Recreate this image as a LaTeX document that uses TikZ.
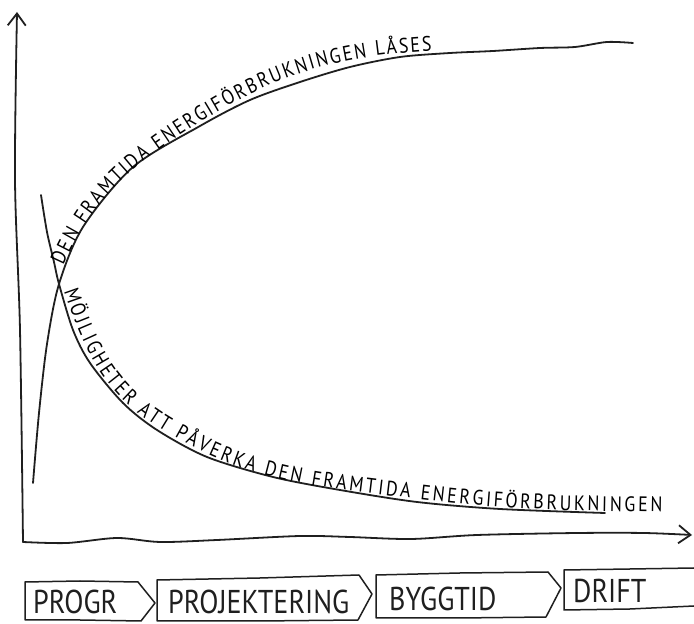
\documentclass[tikz,border=0pt]{standalone}
\usepackage{fontspec}
\newfontfamily\hand[FakeStretch=0.85]{PT Sans}
\usetikzlibrary{arrows.meta,decorations.text}
\newcommand{\curvefont}{\hand\fontsize{21}{21}\selectfont}
\tikzset{
  ink/.style={draw=black!88, line width=1.8pt, line cap=round, line join=round},
  boxline/.style={ink, line width=1.5pt},
  axisline/.style={ink, -{Straight Barb[length=12pt,width=18pt,line width=1.8pt]}},
  curvelabel/.style={decorate, decoration={text along path, text align={fit to path}, raise=3pt}},
  boxlabel/.style={anchor=base west, inner sep=0pt, text=black!88, font=\hand\fontsize{33}{33}\selectfont},
}
\begin{document}
\begin{tikzpicture}[x=1pt,y=1pt]
\useasboundingbox (0,0) rectangle (694,624);
% axes
\coordinate (O) at (23,82);
\coordinate (ytip) at (17,612);
\coordinate (xtip) at (692,89);
\draw[axisline] plot[smooth] coordinates {(O) (20,294) (15,444) (ytip)};
\draw[axisline] plot[smooth] coordinates {(O) (67,81) (117,86) (160,82) (217,84) (300,88) (350,87) (411,85) (477,89) (577,91) (644,91) (xtip)};
% curves
\coordinate (X) at (59,340);
\coordinate (r0) at (33,141);
\coordinate (r1) at (633,581);
\coordinate (f0) at (41,429);
\coordinate (f1) at (605,111);
\draw[ink] plot[smooth] coordinates {(r0) (39,211) (47,280) (X) (83,397) (133,457) (200,498) (250,524) (300,542) (350,557) (400,567) (450,571) (493,573) (540,576) (575,577) (607,582) (r1)};
\draw[ink] plot[smooth] coordinates {(f0) (47,392) (54,362) (X) (73,294) (90,261) (123,221) (157,194) (207,167) (273,147) (340,134) (417,122) (500,115) (f1)};
% curve labels
\coordinate (t1a) at (66,357);
\coordinate (t1b) at (200,498);
\coordinate (t1c) at (432,570);
\path[curvelabel, decoration={text={|\curvefont|DEN FRAMTIDA ENERGIFÖRBRUKNINGEN LÅSES}}]
  (t1a) to[out=66,in=212] (t1b) to[out=32,in=183] (t1c);
\coordinate (t2a) at (61,332);
\coordinate (t2b) at (157,194);
\coordinate (t2c) at (417,122);
\coordinate (t2d) at (662,109);
\path[curvelabel, decoration={text={|\curvefont|MÖJLIGHETER ATT PÅVERKA DEN FRAMTIDA ENERGIFÖRBRUKNINGEN}}]
  (t2a) to[out=-71,in=148] (t2b) to[out=-32,in=173] (t2c) to[out=-7,in=179] (t2d);
% phase boxes
\draw[boxline] (25,42) -- (80,43) -- (138,42) -- (155,21) -- (141,3) -- (80,4) -- (25,4) -- cycle;
\draw[boxline] (157,44) -- (260,46) -- (359,49) -- (372,30) -- (358,4) -- (260,3) -- (157,3) -- cycle;
\draw[boxline] (376,49) -- (460,51) -- (548,52) -- (561,36) -- (546,7) -- (460,6) -- (376,6) -- cycle;
\draw[boxline] (694,56) -- (630,55) -- (564,54) -- (564,14) -- (630,15) -- (694,18);
\node[boxlabel] (p1) at (33,10) {PROGR};
\node[boxlabel] (p2) at (168,10) {PROJEKTERING};
\node[boxlabel] (p3) at (389,13) {BYGGTID};
\node[boxlabel] (p4) at (573,21) {DRIFT};
\end{tikzpicture}
\end{document}
